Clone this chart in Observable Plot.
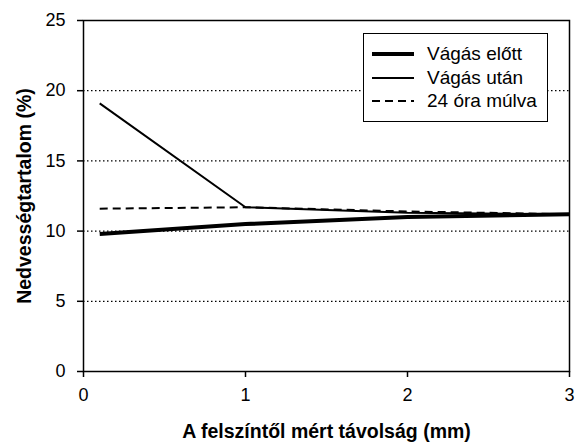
<!DOCTYPE html>
<html>
<head>
<meta charset="utf-8">
<script src="https://cdn.jsdelivr.net/npm/d3@7"></script>
<script src="https://cdn.jsdelivr.net/npm/@observablehq/plot@0.6"></script>
<style>
  body { margin: 0; background: #fff; }
  #wrap { position: relative; width: 577px; height: 444px; font-family: "Liberation Sans", Arial, sans-serif; }
  #legend { position: absolute; left: 363px; top: 33px; width: 185px; height: 89px; box-sizing: border-box;
            border: 1.5px solid #000; background: #fff; }
  .row { position: absolute; left: 8px; height: 22px; display: flex; align-items: center; font-size: 19px; color: #000; white-space: nowrap; }
  .row svg { margin-right: 13px; }
</style>
</head>
<body>
<div id="wrap"></div>
<script>
// Data
const distances = [0.1, 1, 2, 3];
const seriesNames = ["Vágás előtt", "Vágás után", "24 óra múlva"];
const vagasElott = [9.8, 10.5, 11.0, 11.2];
const vagasUtan = [19.1, 11.7, 11.3, 11.2];
const oraMulva24 = [11.6, 11.7, 11.4, 11.2];
const xTicks = [0, 1, 2, 3];
const yTicks = [0, 5, 10, 15, 20, 25];
const gridValues = [5, 10, 15, 20];

const seriesValues = [vagasElott, vagasUtan, oraMulva24];
const styles = [
  {strokeWidth: 4, dash: null},
  {strokeWidth: 2, dash: null},
  {strokeWidth: 2, dash: "8,5"}
];

const table = [];
seriesNames.forEach((name, i) => {
  distances.forEach((d, j) => table.push({series: name, x: d, y: seriesValues[i][j]}));
});

const lineMarks = seriesNames.map((name, i) => Plot.line(table.filter(r => r.series === name), {
  x: "x", y: "y", stroke: "black", strokeWidth: styles[i].strokeWidth,
  strokeDasharray: styles[i].dash || undefined, strokeLinejoin: "miter", strokeLinecap: "butt"
}));

const chart = Plot.plot({
  width: 577,
  height: 444,
  marginLeft: 83,
  marginRight: 8,
  marginTop: 20,
  marginBottom: 73,
  style: {fontFamily: "'Liberation Sans', Arial, sans-serif", fontSize: "18px", color: "black", background: "white"},
  x: {domain: [0, 3], ticks: xTicks, tickSize: 6, tickPadding: 11, tickFormat: d => String(d),
      label: "A felszíntől mért távolság (mm)", labelAnchor: "center", labelOffset: 66, labelArrow: "none"},
  y: {domain: [0, 25], ticks: yTicks, tickSize: 6, tickPadding: 12, tickFormat: d => String(d),
      label: "Nedvességtartalom (%)", labelAnchor: "center", labelOffset: 66, labelArrow: "none"},
  marks: [
    Plot.gridY(gridValues, {stroke: "black", strokeOpacity: 1, strokeWidth: 1.3, strokeDasharray: "1.5,2.5"}),
    ...lineMarks,
    Plot.frame({stroke: "black", strokeWidth: 1.5})
  ]
});

chart.querySelectorAll("[aria-label='x-axis tick label'], [aria-label='y-axis tick label']").forEach(g => {
  g.setAttribute("font-size", "18px");
  g.querySelectorAll("text").forEach(t => t.setAttribute("font-size", "18px"));
});
chart.querySelectorAll("[aria-label='x-axis label'] text, [aria-label='y-axis label'] text").forEach(t => {
  t.setAttribute("font-weight", "bold");
  t.setAttribute("font-size", "19.5px");
});
chart.querySelectorAll("[aria-label='x-axis tick'], [aria-label='y-axis tick']").forEach(g => {
  g.setAttribute("stroke-width", "1.5");
});

const wrap = document.getElementById("wrap");
wrap.appendChild(chart);

// Legend
const legend = document.createElement("div");
legend.id = "legend";
seriesNames.forEach((name, i) => {
  const row = document.createElement("div");
  row.className = "row";
  row.style.top = (9 + i * 23.5) + "px";
  const ns = "http://www.w3.org/2000/svg";
  const s = document.createElementNS(ns, "svg");
  s.setAttribute("width", "42");
  s.setAttribute("height", "10");
  const l = document.createElementNS(ns, "line");
  l.setAttribute("x1", "0"); l.setAttribute("x2", "42");
  l.setAttribute("y1", "5"); l.setAttribute("y2", "5");
  l.setAttribute("stroke", "black");
  l.setAttribute("stroke-width", String(styles[i].strokeWidth));
  if (styles[i].dash) l.setAttribute("stroke-dasharray", styles[i].dash);
  s.appendChild(l);
  row.appendChild(s);
  const span = document.createElement("span");
  span.textContent = name;
  row.appendChild(span);
  legend.appendChild(row);
});
wrap.appendChild(legend);
</script>
</body>
</html>
